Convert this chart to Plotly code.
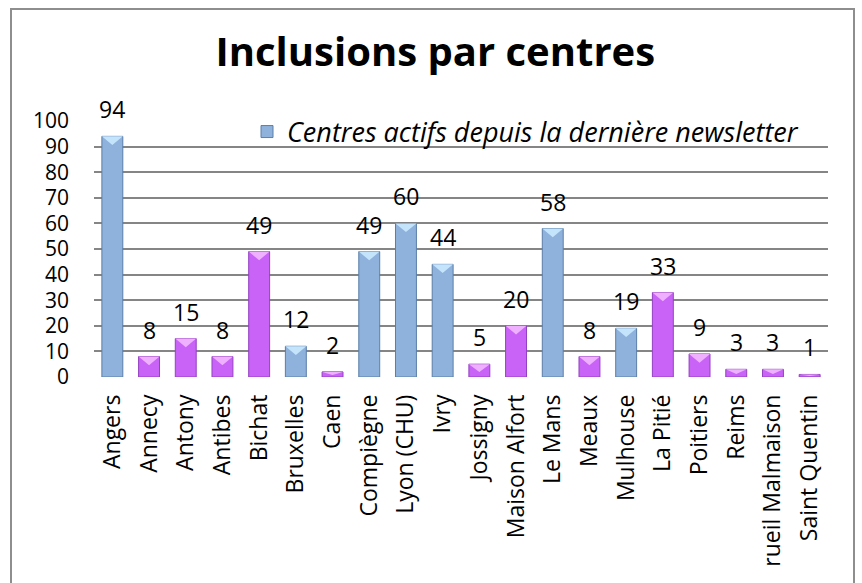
import plotly.graph_objects as go

centres = ["Angers", "Annecy", "Antony", "Antibes", "Bichat", "Bruxelles", "Caen",
           "Compiègne", "Lyon (CHU)", "Ivry", "Jossigny", "Maison Alfort", "Le Mans",
           "Meaux", "Mulhouse", "La Pitié", "Poitiers", "Reims", "rueil Malmaison",
           "Saint Quentin"]
inclusions = [94, 8, 15, 8, 49, 12, 2, 49, 60, 44, 5, 20, 58, 8, 19, 33, 9, 3, 3, 1]
actifs = [True, False, False, False, False, True, False, True, True, True, False,
          False, True, False, True, False, False, False, False, False]
y_ticks = [0, 10, 20, 30, 40, 50, 60, 70, 80, 90, 100]

title_text = "Inclusions par centres"
legend_text = "Centres actifs depuis la dernière newsletter"

FONT = "Open Sans"
BLUE, BLUE_EDGE, BLUE_TOP = "#8fb2dc", "#5b7ea8", "#c4e4fb"
PURP, PURP_EDGE, PURP_TOP = "#c963f7", "#9440c2", "#eeb0ff"
BAR_W = 0.57

n = len(centres)
xs = list(range(n))
blue_y = [v if a else None for v, a in zip(inclusions, actifs)]
purp_y = [None if a else v for v, a in zip(inclusions, actifs)]

fig = go.Figure()
fig.add_trace(go.Bar(x=xs, y=blue_y, width=BAR_W, name=legend_text,
                     marker=dict(color=BLUE, line=dict(color=BLUE_EDGE, width=1)),
                     hoverinfo="skip"))
fig.add_trace(go.Bar(x=xs, y=purp_y, width=BAR_W, name="Autres centres", showlegend=False,
                     marker=dict(color=PURP, line=dict(color=PURP_EDGE, width=1)),
                     hoverinfo="skip"))

# bevel triangles at the top of each bar
def bevel(flag):
    tx, ty = [], []
    for i, (v, a) in enumerate(zip(inclusions, actifs)):
        if a != flag:
            continue
        d = min(3.4, v * 0.6)
        h = BAR_W / 2
        tx += [i - h, i + h, i, i - h, None]
        ty += [v, v, v - d, v, None]
    return tx, ty

for flag, col in [(True, BLUE_TOP), (False, PURP_TOP)]:
    tx, ty = bevel(flag)
    fig.add_trace(go.Scatter(x=tx, y=ty, mode="lines", fill="toself", fillcolor=col,
                             line=dict(width=0, color=col), showlegend=False,
                             hoverinfo="skip"))

for i, v in enumerate(inclusions):
    fig.add_annotation(x=i, y=v, text=str(v), showarrow=False, yanchor="bottom",
                       yshift=9, font=dict(family=FONT, size=23, color="black"))

L, R, T, B = 94, 34, 121, 206
W, H = 862, 583
pw, ph = W - L - R, H - T - B
# outer chart frame (extends below the visible picture)
fig.add_shape(type="rect", xref="paper", yref="paper",
              x0=(11 - L) / pw, x1=(854 - L) / pw,
              y0=-(600 - (H - B)) / ph, y1=(H - B - 9) / ph,
              line=dict(color="#8e8e8e", width=2), fillcolor="rgba(0,0,0,0)", layer="below")

fig.update_layout(
    width=W, height=H,
    margin=dict(l=L, r=R, t=T, b=B, autoexpand=False),
    paper_bgcolor="white", plot_bgcolor="white",
    barmode="overlay",
    title=dict(text=f"<b>{title_text}</b>", x=0.505, xanchor="center",
               y=1 - 52 / H, yanchor="middle", yref="container",
               font=dict(family=FONT, size=40, color="black")),
    font=dict(family=FONT, color="black"),
    showlegend=True,
    legend=dict(x=(247 - L) / pw, xanchor="left", y=(H - B - 132) / ph, yanchor="middle",
                bgcolor="rgba(0,0,0,0)", borderwidth=0,
                font=dict(family=FONT, size=27, color="black", style="italic")),
    xaxis=dict(range=[-0.5, n - 0.5], tickmode="array", tickvals=xs, ticktext=centres,
               tickangle=-90, tickfont=dict(family=FONT, size=23, color="black"),
               showgrid=False, zeroline=False, showline=False, ticks="",
               ticklabelstandoff=12, fixedrange=True, automargin=False),
    yaxis=dict(range=[0, 100], tickmode="array", tickvals=y_ticks,
               tickfont=dict(family=FONT, size=21, color="black"),
               showgrid=True, gridcolor="#858585", gridwidth=1.7,
               zeroline=False, showline=False, ticks="", ticklabelstandoff=24,
               fixedrange=True, automargin=False),
)

fig.write_html("out.html", config={"displayModeBar": False},
               post_script="document.body.style.margin='0';")
